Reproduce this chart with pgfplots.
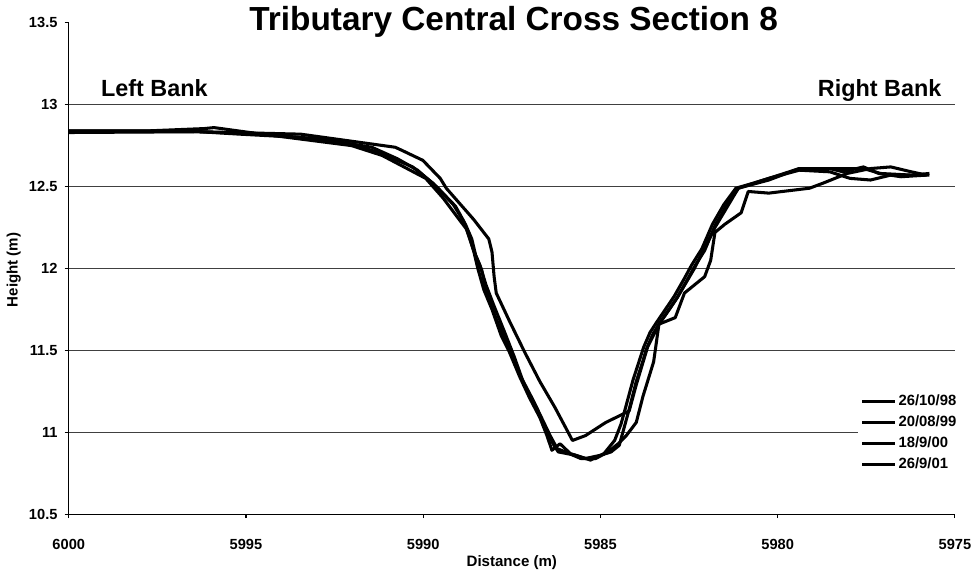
\documentclass[border=0pt]{standalone}
\usepackage{pgfplots}
\pgfplotsset{compat=1.18}
\usepackage{fontspec}
\setmainfont{Liberation Sans}

\pgfplotstableread{
x y
6000 12.83
5996.33 12.835
5993.46 12.82
5990.79 12.74
5990.59 12.72
5990.01 12.66
5989.52 12.55
5989.35 12.49
5988.58 12.30
5988.15 12.18
5988.06 12.10
5988.00 11.95
5987.94 11.85
5987.57 11.68
5987.14 11.49
5986.71 11.31
5986.28 11.15
5985.79 10.95
5985.42 10.98
5984.85 11.06
5984.47 11.10
5984.19 11.13
5983.99 11.29
5983.81 11.42
5983.67 11.52
5983.35 11.66
5982.84 11.82
5982.35 12.00
5981.77 12.25
5981.11 12.49
5980.25 12.54
5979.39 12.61
5978.53 12.61
5977.58 12.61
5977.10 12.58
5976.23 12.57
5975.72 12.57
}\seriesA

\pgfplotstableread{
x y
6000 12.84
5997.76 12.84
5996.18 12.854
5995.90 12.86
5994.89 12.83
5993.46 12.79
5992.02 12.75
5991.16 12.69
5989.93 12.55
5989.44 12.43
5988.78 12.24
5988.58 12.11
5988.46 12.00
5988.29 11.87
5988.06 11.75
5987.80 11.59
5987.57 11.49
5987.28 11.34
5987.00 11.21
5986.71 11.09
5986.51 10.98
5986.37 10.89
5986.14 10.93
5985.85 10.87
5985.42 10.84
5984.99 10.86
5984.70 10.88
5984.47 10.92
5984.33 11.03
5984.19 11.14
5983.99 11.31
5983.81 11.43
5983.70 11.51
5983.52 11.60
5983.35 11.66
5983.12 11.73
5982.84 11.82
5982.55 11.93
5982.35 12.01
5982.06 12.11
5981.77 12.26
5981.46 12.38
5981.11 12.49
5980.25 12.55
5979.39 12.61
5978.53 12.61
5978.16 12.59
5977.58 12.62
5977.15 12.58
5976.52 12.56
5975.80 12.57
}\seriesB

\pgfplotstableread{
x y
6000 12.835
5996.33 12.835
5995.18 12.82
5993.46 12.80
5992.02 12.76
5991.16 12.70
5990.30 12.62
5989.72 12.52
5989.15 12.39
5988.81 12.27
5988.63 12.18
5988.52 12.08
5988.35 11.99
5988.20 11.84
5987.92 11.68
5987.66 11.56
5987.37 11.40
5987.08 11.26
5986.80 11.15
5986.57 11.03
5986.34 10.93
5986.19 10.88
5985.71 10.86
5985.28 10.83
5984.90 10.87
5984.60 10.95
5984.42 11.05
5984.28 11.16
5984.08 11.32
5983.90 11.44
5983.78 11.52
5983.60 11.61
5983.42 11.67
5983.20 11.74
5982.92 11.83
5982.63 11.94
5982.43 12.02
5982.14 12.12
5981.84 12.27
5981.52 12.39
5981.18 12.49
5980.70 12.52
5980.25 12.55
5979.39 12.60
5978.53 12.59
5977.96 12.55
5977.38 12.54
5976.81 12.57
5976.23 12.57
5975.72 12.58
}\seriesC

\pgfplotstableread{
x y
6000 12.84
5996.90 12.84
5994.60 12.82
5992.88 12.79
5991.45 12.74
5990.73 12.67
5990.16 12.60
5989.58 12.49
5989.09 12.38
5988.86 12.29
5988.69 12.19
5988.58 12.11
5988.40 12.02
5988.23 11.90
5988.00 11.77
5987.72 11.62
5987.43 11.46
5987.20 11.32
5986.91 11.20
5986.62 11.07
5986.42 10.98
5986.22 10.90
5985.99 10.88
5985.56 10.84
5985.13 10.84
5984.79 10.88
5984.50 10.93
5984.27 10.98
5983.99 11.06
5983.80 11.22
5983.50 11.43
5983.35 11.66
5982.89 11.70
5982.63 11.85
5982.06 11.95
5981.89 12.05
5981.77 12.22
5981.49 12.27
5981.03 12.34
5980.83 12.47
5980.25 12.46
5979.10 12.49
5978.73 12.52
5978.04 12.58
5977.38 12.61
5976.81 12.62
5976.23 12.59
5975.80 12.57
}\seriesD

\begin{document}
\begin{tikzpicture}
\begin{axis}[
  scale only axis, width=435.5pt, height=241.5pt,
  xmin=5975, xmax=6000, x dir=reverse,
  ymin=10.5, ymax=13.5,
  xtick={5975,5980,5985,5990,5995,6000},
  ytick={10.5,11,11.5,12,12.5,13,13.5},
  extra y ticks={11,11.5,12,12.5,13},
  extra y tick labels={},
  extra y tick style={grid=major, major tick length=0pt},
  grid style={black!75, line width=0.6pt},
  axis x line*=bottom, axis y line*=left,
  axis line style={-, black, line width=0.6pt},
  tick align=outside, major tick length=2pt,
  tick style={black, line width=0.5pt},
  /pgf/number format/.cd, fixed, 1000 sep={}, assume math mode=true,
  /pgfplots/.cd,
  tick label style={font=\bfseries\fontsize{7.2}{8}\selectfont},
  xticklabel style={yshift=-7pt},
  clip=false,
  legend cell align=left,
  legend style={at={(rel axis cs:0.890,0.2526)}, anchor=north west, draw=none, fill=white,
    inner sep=1.5pt, row sep=2.6pt, font=\bfseries\fontsize{7.3}{8.8}\selectfont,
    nodes={inner xsep=1pt, inner ysep=0.5pt}},
  legend image code/.code={\draw (0pt,0pt) -- (16pt,0pt);},
  every axis plot post/.append style={black, line width=1.5pt, line join=round, mark=none},
]
\addplot table {\seriesA};
\addplot table {\seriesB};
\addplot table {\seriesC};
\addplot table {\seriesD};
\legend{26/10/98, 20/08/99, 18/9/00, 26/9/01}

\node[anchor=base, font=\bfseries\fontsize{16.4}{18}\selectfont] at (axis cs:5987.45,13.45) {Tributary Central Cross Section 8};
\node[anchor=base west, inner sep=0pt, font=\bfseries\fontsize{11.5}{13}\selectfont] at (axis cs:5999.1,13.047) {Left Bank};
\node[anchor=base east, inner sep=0pt, font=\bfseries\fontsize{11.5}{13}\selectfont] at (axis cs:5975.37,13.047) {Right Bank};
\node[font=\bfseries\fontsize{7.4}{8}\selectfont] at ([yshift=-24pt]rel axis cs:0.5,0) {Distance (m)};
\node[rotate=90, font=\bfseries\fontsize{7.4}{8}\selectfont] at ([xshift=-27pt]rel axis cs:0,0.497) {Height (m)};
\end{axis}
\end{tikzpicture}
\end{document}
